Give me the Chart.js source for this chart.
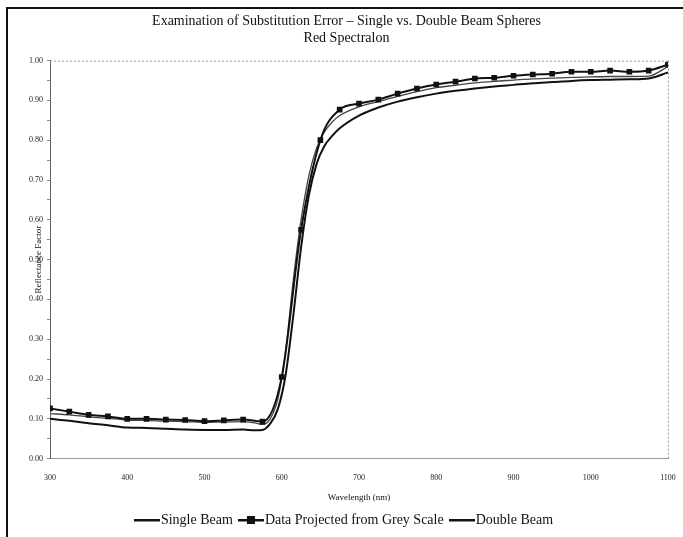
<!DOCTYPE html>
<html>
<head>
<meta charset="utf-8">
<script src="https://cdn.jsdelivr.net/npm/chart.js@4.4.1/dist/chart.umd.min.js"></script>
<style>
  html, body { margin: 0; padding: 0; background: #fff; }
  #wrap { position: relative; width: 683px; height: 537px; }
  #frame { position: absolute; left: 6px; top: 7px; right: 0; bottom: 0; border-top: 2px solid #111; border-left: 2px solid #111; }
  canvas { position: absolute; left: 0; top: 0; }
</style>
</head>
<body>
<div id="wrap">
  <div id="frame"></div>
  <canvas id="chart" width="683" height="537"></canvas>
</div>
<script>
// wavelengths (nm) of the measured squares
const gridWavelengths = [300, 325, 350, 375, 400, 425, 450, 475, 500, 525, 550, 575, 600, 625, 650, 675,
  700, 725, 750, 775, 800, 825, 850, 875, 900, 925, 950, 975, 1000, 1025, 1050, 1075, 1100];
const projectedValues = [0.126, 0.118, 0.110, 0.106, 0.100, 0.100, 0.098, 0.097, 0.094, 0.096, 0.098, 0.093, 0.205, 0.575, 0.800, 0.877,
  0.892, 0.902, 0.917, 0.930, 0.940, 0.947, 0.955, 0.957, 0.962, 0.965, 0.967, 0.972, 0.972, 0.975, 0.972, 0.975, 0.990];

// wavelengths for the two measured curves
const curveWavelengths = [300, 325, 350, 375, 400, 425, 450, 475, 500, 525, 550, 565, 575, 585, 595, 605, 615, 625, 635, 645,
  655, 665, 675, 700, 725, 750, 775, 800, 825, 850, 875, 900, 925, 950, 975, 1000, 1025, 1050, 1075, 1100];
const singleBeam = [0.100, 0.095, 0.089, 0.084, 0.078, 0.077, 0.075, 0.073, 0.072, 0.072, 0.073, 0.071, 0.072, 0.088, 0.125, 0.210, 0.360, 0.530, 0.660, 0.740,
  0.785, 0.810, 0.830, 0.862, 0.882, 0.897, 0.908, 0.917, 0.924, 0.930, 0.935, 0.939, 0.943, 0.946, 0.949, 0.951, 0.952, 0.953, 0.955, 0.970];
const doubleBeam = [0.113, 0.110, 0.105, 0.101, 0.097, 0.096, 0.094, 0.093, 0.091, 0.092, 0.093, 0.090, 0.086, 0.100, 0.150, 0.270, 0.450, 0.600, 0.710, 0.780,
  0.820, 0.845, 0.862, 0.884, 0.897, 0.910, 0.922, 0.932, 0.938, 0.944, 0.948, 0.951, 0.954, 0.956, 0.958, 0.959, 0.960, 0.960, 0.961, 0.985];

const xTicks = [300, 400, 500, 600, 700, 800, 900, 1000, 1100];

const SERIF = "'Liberation Serif', 'DejaVu Serif', serif";

function pairs(xs, ys) {
  return xs.map((x, i) => ({ x: x, y: ys[i] }));
}

// legend icons: a short line, optionally with a square on it
function legendIcon(withSquare) {
  const c = document.createElement("canvas");
  c.width = 26; c.height = 10;
  const g = c.getContext("2d");
  g.fillStyle = "#111";
  g.fillRect(0, 4, 26, 2.5);
  if (withSquare) g.fillRect(9, 1, 8, 8);
  return c;
}

const dottedBorder = {
  id: "dottedBorder",
  afterDraw(chart) {
    const a = chart.chartArea, ctx = chart.ctx;
    ctx.save();
    ctx.strokeStyle = "#999";
    ctx.lineWidth = 1;
    ctx.setLineDash([2, 2]);
    ctx.beginPath();
    ctx.moveTo(a.left, a.top + 0.5);
    ctx.lineTo(a.right, a.top + 0.5);
    ctx.moveTo(a.right + 0.5, a.top);
    ctx.lineTo(a.right + 0.5, a.bottom);
    ctx.stroke();
    ctx.restore();
  }
};

new Chart(document.getElementById("chart"), {
  type: "line",
  data: {
    datasets: [
      {
        label: "Single Beam",
        data: pairs(curveWavelengths, singleBeam),
        borderColor: "#111",
        borderWidth: 2,
        pointRadius: 0,
        cubicInterpolationMode: "monotone",
        order: 3,
      },
      {
        label: "Data Projected from Grey Scale",
        data: pairs(gridWavelengths, projectedValues),
        borderColor: "#111",
        backgroundColor: "#111",
        borderWidth: 2,
        pointStyle: "rect",
        pointRadius: 4,
        pointBorderWidth: 0,
        cubicInterpolationMode: "monotone",
        order: 1,
      },
      {
        label: "Double Beam",
        data: pairs(curveWavelengths, doubleBeam),
        borderColor: "#444",
        borderWidth: 1.3,
        pointRadius: 0,
        cubicInterpolationMode: "monotone",
        order: 2,
      },
    ],
  },
  options: {
    responsive: false,
    animation: false,
    layout: { padding: { left: 25, right: 15, top: 9, bottom: 0 } },
    plugins: {
      title: {
        display: true,
        text: ["Examination of Substitution Error \u2013 Single vs. Double Beam Spheres", "Red Spectralon"],
        color: "#111",
        font: { family: SERIF, size: 14, weight: "normal", lineHeight: 1.2 },
        padding: { top: 4, bottom: 14 },
      },
      legend: {
        position: "bottom",
        labels: {
          color: "#111",
          font: { family: SERIF, size: 14 },
          usePointStyle: true,
          boxWidth: 26,
          padding: 11,
          generateLabels(chart) {
            return chart.data.datasets.map((ds, i) => ({
              text: ds.label,
              pointStyle: legendIcon(i === 1),
              fillStyle: "#111",
              strokeStyle: "#111",
              lineWidth: 0,
              datasetIndex: i,
              fontColor: "#111",
            }));
          },
        },
      },
      tooltip: { enabled: false },
    },
    scales: {
      x: {
        type: "linear",
        min: 300,
        max: 1100,
        afterBuildTicks(axis) { axis.ticks = xTicks.map(v => ({ value: v })); },
        ticks: { color: "#222", font: { family: SERIF, size: 8 }, padding: 2, callback: v => String(v) },
        grid: { display: true, drawOnChartArea: false, tickLength: 13, tickColor: "rgba(0,0,0,0)" },
        border: { color: "#999", width: 1 },
        title: {
          display: true,
          text: "Wavelength (nm)",
          color: "#111",
          font: { family: SERIF, size: 9 },
          padding: { top: 7, bottom: -1 },
        },
      },
      y: {
        min: 0,
        max: 1,
        ticks: {
          stepSize: 0.05,
          autoSkip: false,
          color: "#222",
          font: { family: SERIF, size: 8 },
          padding: 4,
          callback(v) { return Math.round(v * 100) % 10 === 0 ? v.toFixed(2) : ""; },
        },
        grid: { display: true, drawOnChartArea: false, tickLength: 3, color: "#888" },
        border: { color: "#666", width: 1 },
        title: {
          display: true,
          text: "Reflectance Factor",
          color: "#111",
          font: { family: SERIF, size: 9, lineHeight: 1 },
          padding: { top: 9, bottom: -18 },
        },
      },
    },
  },
  plugins: [dottedBorder],
});
</script>
</body>
</html>
